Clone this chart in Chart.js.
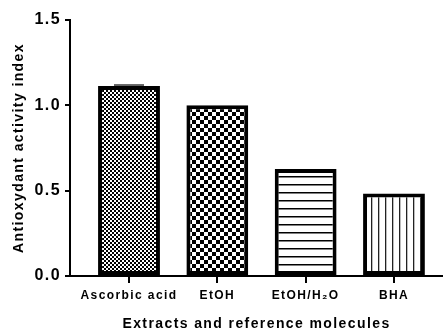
<!DOCTYPE html>
<html>
<head>
<meta charset="utf-8">
<title>Antioxydant activity index</title>
<script src="https://cdn.jsdelivr.net/npm/chart.js@4.4.0/dist/chart.umd.min.js"></script>
<style>
  body { margin: 0; background: #fff; }
</style>
</head>
<body>
<canvas id="chart" width="443" height="333"></canvas>
<script>
// values
const labels = ['Ascorbic acid', 'EtOH', 'EtOH/H\u2082O', 'BHA'];
const values = [1.113, 1.0, 0.627, 0.484];
const errors = [0.006, 0, 0, 0];
const yTicks = [0, 0.5, 1.0, 1.5];

// small canvas -> repeating fill pattern
function makePattern(w, h, draw) {
    const c = document.createElement('canvas');
    c.width = w;
    c.height = h;
    const g = c.getContext('2d');
    g.fillStyle = '#fff';
    g.fillRect(0, 0, w, h);
    g.fillStyle = '#000';
    draw(g);
    return document.getElementById('chart').getContext('2d').createPattern(c, 'repeat');
}

const fills = [
    makePattern(4, 4, g => { g.fillRect(0, 0, 2, 2); g.fillRect(2, 2, 2, 2); }),
    makePattern(8, 8, g => { g.fillRect(0, 0, 4, 4); g.fillRect(4, 4, 4, 4); }),
    makePattern(8, 8, g => { g.fillRect(0, 0, 8, 1.5); }),
    makePattern(7, 8, g => { g.fillStyle = '#222'; g.fillRect(0, 0, 1.3, 8); })
];

const spacing = {
    id: 'spacing',
    beforeLayout(chart) { chart.ctx.letterSpacing = '1.4px'; },
    beforeDraw(chart) { chart.ctx.letterSpacing = '1.4px'; }
};

const errorBars = {
    id: 'errorBars',
    afterDatasetsDraw(chart) {
        const ctx = chart.ctx;
        const xs = chart.scales.x, ys = chart.scales.y;
        ctx.save();
        ctx.strokeStyle = '#333';
        ctx.lineWidth = 1.5;
        errors.forEach((e, i) => {
            if (!e) return;
            const x = xs.getPixelForValue(i);
            const y = ys.getPixelForValue(values[i] + e);
            ctx.beginPath();
            ctx.moveTo(x - 15, y);
            ctx.lineTo(x + 15, y);
            ctx.stroke();
        });
        ctx.restore();
    }
};

const ctx = document.getElementById('chart').getContext('2d');
new Chart(ctx, {
    type: 'bar',
    data: {
        datasets: [{
            data: values.map((v, i) => ({ x: i, y: v })),
            backgroundColor: fills,
            borderColor: '#000',
            borderWidth: 4,
            borderSkipped: false,
            categoryPercentage: 1,
            barPercentage: 0.7
        }]
    },
    options: {
        responsive: false,
        animation: false,
        layout: { padding: { top: 20, left: 0, right: 0, bottom: 0 } },
        plugins: {
            legend: { display: false },
            tooltip: { enabled: false }
        },
        scales: {
            x: {
                type: 'linear',
                offset: false,
                min: -0.668,
                max: 3.555,
                afterBuildTicks: s => { s.ticks = labels.map((l, i) => ({ value: i })); },
                afterFit: s => { s.height = 57; },
                ticks: {
                    callback: v => labels[v],
                    font: { family: 'Liberation Sans', size: 12, weight: 'bold' },
                    color: '#000',
                    padding: 5,
                    maxRotation: 0,
                    autoSkip: false
                },
                grid: { offset: false, drawOnChartArea: false, color: '#000', lineWidth: 2, tickLength: 7 },
                border: { color: '#000', width: 2 },
                title: {
                    display: true,
                    text: 'Extracts and reference molecules',
                    font: { family: 'Liberation Sans', size: 14, weight: 'bold' },
                    color: '#000',
                    padding: 0
                }
            },
            y: {
                min: 0,
                max: 1.5,
                afterBuildTicks: s => { s.ticks = yTicks.map(v => ({ value: v })); },
                afterFit: s => { s.width = 70; },
                ticks: {
                    callback: v => v.toFixed(1),
                    font: { family: 'Liberation Sans', size: 16, weight: 'bold' },
                    color: '#000',
                    padding: 4
                },
                grid: { drawOnChartArea: false, color: '#000', lineWidth: 2, tickLength: 5 },
                border: { color: '#000', width: 2 },
                title: {
                    display: true,
                    text: 'Antioxydant activity index',
                    font: { family: 'Liberation Sans', size: 14, weight: 'bold' },
                    color: '#000',
                    padding: { top: 11 }
                }
            }
        }
    },
    plugins: [spacing, errorBars]
});
</script>
</body>
</html>
